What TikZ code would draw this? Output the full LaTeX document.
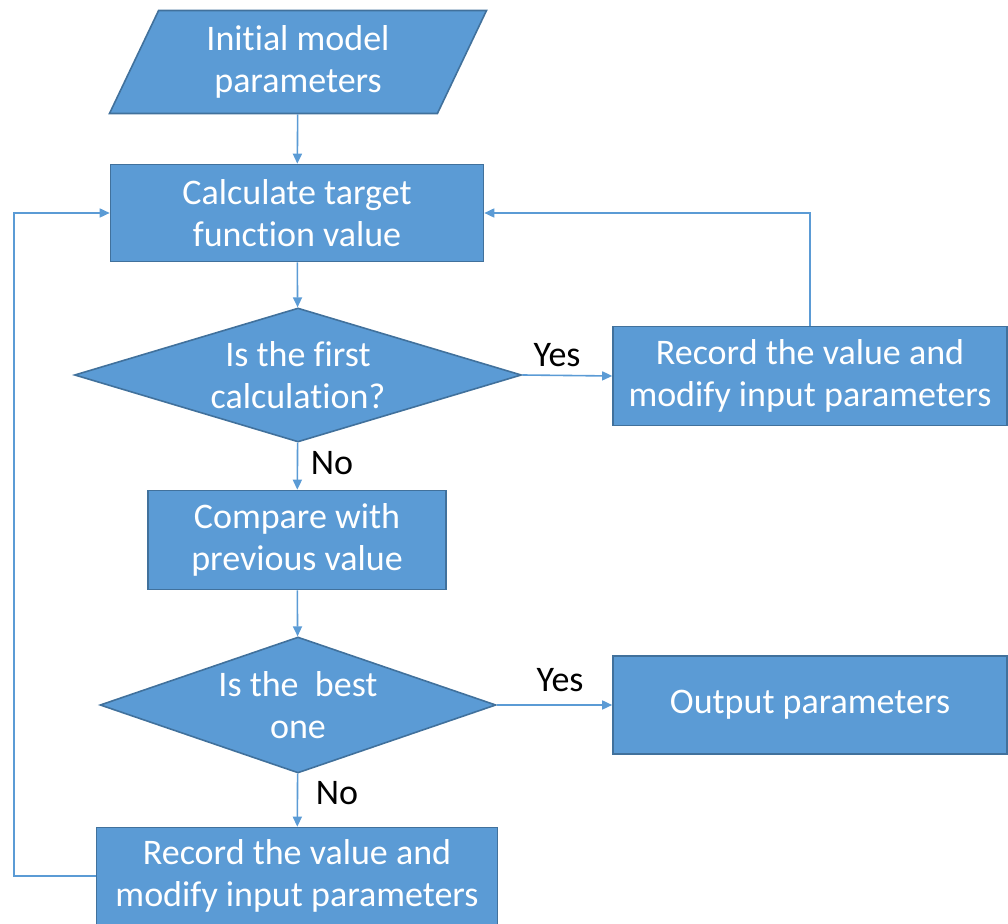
\documentclass[tikz,border=0pt]{standalone}
\usepackage{fontspec}
\setmainfont{Carlito}[Ligatures=NoCommon]
\usetikzlibrary{shapes.geometric,arrows.meta}
\definecolor{boxblue}{HTML}{5B9BD5}
\definecolor{edgeblue}{HTML}{41719C}
\tikzset{
    block/.style={draw=edgeblue, fill=boxblue, text=white, line width=0.8pt, align=center, inner sep=0pt},
    test/.style={block, diamond, shape aspect=3},
    flow/.style={draw=boxblue, line width=0.8pt, -{Triangle[length=5pt,width=4.5pt]}},
    answer/.style={text=black},
  }
\begin{document}
\begin{tikzpicture}[x=0.5pt,y=-0.5pt,font=\fontsize{18}{21}\selectfont]
				  \useasboundingbox (0,0) rectangle (1008,924);
				  %boxes
				  \node[block, trapezium, trapezium left angle=56, trapezium right angle=124, trapezium stretches body, minimum width=188.5pt, minimum height=51.5pt](input) at (298,62) {Initial model\\parameters};
				  \node[block, minimum width=186.5pt, minimum height=48.5pt](calc) at (297,213) {Calculate target\\function value};
				  \node[test, minimum width=223.5pt, minimum height=67pt](first) at (298,375) {Is the first\\calculation?};
				  \node[block, minimum width=197pt, minimum height=49.5pt](record1) at (810,376) {Record the value and\\modify input parameters};
				  \node[block, minimum width=149pt, minimum height=49.5pt](compare) at (297,540) {Compare with\\previous value};
				  \node[test, minimum width=198pt, minimum height=68pt](best) at (298,705) {Is the~ best\\one};
				  \node[block, minimum width=197pt, minimum height=49pt](output) at (810,705) {Output parameters};
				  \node[block, minimum width=200.5pt, minimum height=48.5pt](record2) at (297,876) {Record the value and\\modify input parameters};
				  %arrows
				  \draw[flow] (input) -- (calc);
				  \draw[flow] (calc) -- (first);
				  \draw[flow] (first.east) -- (record1.west);
				  \draw[flow] (record1.north) |- (calc.east);
				  \draw[flow] (first) -- (compare);
				  \draw[flow] (compare) -- (best);
				  \draw[flow] (best.east) -- (output.west);
				  \draw[flow] (best) -- (record2);
				  \draw[flow] (record2.west) -- ++(-82,0) |- (calc.west);
				  %labels
				  \node[answer](yes1) at (557,355) {Yes};
				  \node[answer](no1) at (332,463) {No};
				  \node[answer](yes2) at (560,680) {Yes};
				  \node[answer](no2) at (337,793) {No};
\end{tikzpicture}
\end{document}
